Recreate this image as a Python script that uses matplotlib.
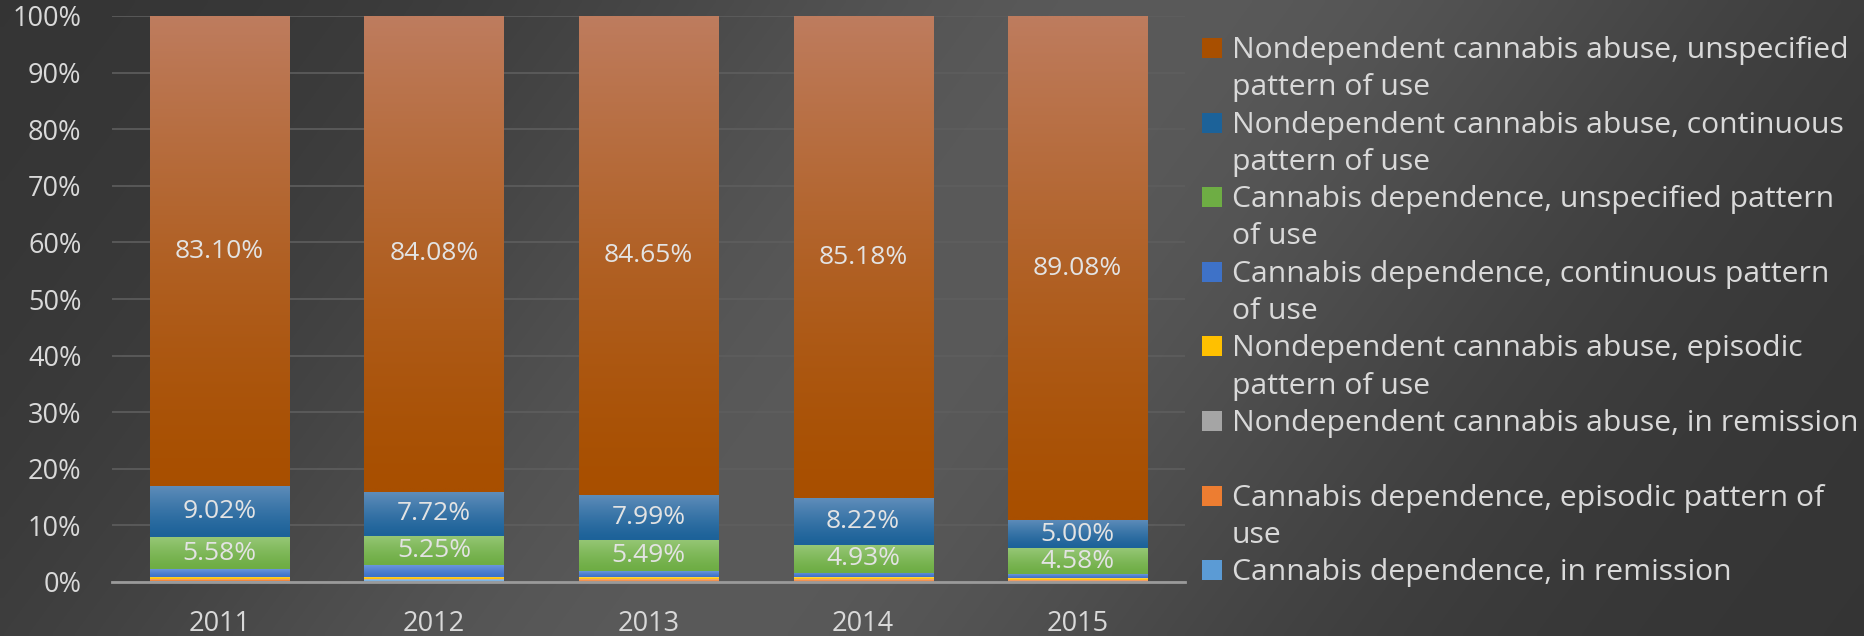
import numpy as np
import matplotlib
matplotlib.use("Agg")
import matplotlib.pyplot as plt
from matplotlib.colors import to_rgb
from matplotlib.patches import Rectangle

plt.rcParams['font.family'] = ['Open Sans', 'DejaVu Sans']

# data (percent of cases per year), stack order bottom -> top
years = ['2011', '2012', '2013', '2014', '2015']
dep_remission = [0.10, 0.30, 0.08, 0.08, 0.05]
dep_episodic = [0.35, 0.10, 0.40, 0.45, 0.35]
abuse_remission = [0.05, 0.08, 0.04, 0.07, 0.04]
abuse_episodic = [0.40, 0.40, 0.35, 0.30, 0.30]
dep_continuous = [1.40, 2.07, 1.00, 0.77, 0.60]
dep_unspecified = [5.58, 5.25, 5.49, 4.93, 4.58]
abuse_continuous = [9.02, 7.72, 7.99, 8.22, 5.00]
abuse_unspecified = [83.10, 84.08, 84.65, 85.18, 89.08]

series = [
    ("Cannabis dependence, in remission", dep_remission, '#5B9BD5', '#8EC0EA', False),
    ("Cannabis dependence, episodic pattern of\nuse", dep_episodic, '#ED7D31', '#F7AE7C', False),
    ("Nondependent cannabis abuse, in remission", abuse_remission, '#A5A5A5', '#CACACA', False),
    ("Nondependent cannabis abuse, episodic\npattern of use", abuse_episodic, '#FFC000', '#FFD95C', False),
    ("Cannabis dependence, continuous pattern\nof use", dep_continuous, '#3E72C8', '#6A96DC', False),
    ("Cannabis dependence, unspecified pattern\nof use", dep_unspecified, '#6EAD44', '#96C776', True),
    ("Nondependent cannabis abuse, continuous\npattern of use", abuse_continuous, '#1C6299', '#5F8DBA', True),
    ("Nondependent cannabis abuse, unspecified\npattern of use", abuse_unspecified, '#A84F00', '#BE7C5E', True),
]

W, H = 1864, 636
fig = plt.figure(figsize=(W / 100, H / 100), dpi=100)

# background gradient
bg = fig.add_axes([0, 0, 1, 1], zorder=-10)
gx = np.linspace(0, 1, 256)[None, :]
gy = np.linspace(0, 1, 128)[:, None]
u = gx + 0.25 * gy
v = 52 + 38 * np.exp(-((u - 0.62) / 0.32) ** 2)
bg.imshow(np.repeat((v / 255.0)[:, :, None], 3, axis=2), extent=[0, 1, 0, 1],
          aspect='auto', origin='upper', interpolation='bilinear')
bg.axis('off')

ax = fig.add_axes([112 / W, 1 - 582 / H, (1185 - 112) / W, (582 - 16) / H])
ax.set_facecolor('none')

x = np.arange(len(years))
bottom = np.zeros(len(years))
width = 0.648
for label, vals, base, light, show in series:
    vals = np.array(vals)
    bars = ax.bar(x, vals, width, bottom=bottom, color=base, zorder=3, linewidth=0)
    c0, c1 = np.array(to_rgb(base)), np.array(to_rgb(light))
    t = np.linspace(0, 1, 64)[:, None, None]
    img = c0 + (c1 - c0) * t ** 1.3
    for p in bars.patches:
        im = ax.imshow(img, extent=[p.get_x(), p.get_x() + p.get_width(),
                                    p.get_y(), p.get_y() + p.get_height()],
                       origin='lower', aspect='auto', zorder=3.1, interpolation='bilinear')
        im.set_clip_path(p)
    if show:
        for xi, b, val in zip(x, bottom, vals):
            ax.text(xi, b + val / 2, f"{val:.2f}%", ha='center', va='center',
                    color='#E3E3E3', fontsize=19, zorder=5)
    bottom += vals

ax.set_xlim(-0.5, len(years) - 0.5)
ax.set_ylim(0, 100)
ax.set_aspect('auto')
ax.set_yticks(np.arange(0, 101, 10))
ax.set_yticklabels([f"{t}%" for t in range(0, 101, 10)])
ax.set_xticks(x)
ax.set_xticklabels(years)
ax.tick_params(axis='y', length=0, pad=22, labelsize=19.5, labelcolor='#D9D9D9')
ax.tick_params(axis='x', length=0, pad=20, labelsize=19.5, labelcolor='#D9D9D9')
ax.grid(axis='y', color='#5E5E5E', linewidth=1.2, zorder=0)
for s in ['top', 'right', 'left']:
    ax.spines[s].set_visible(False)
ax.spines['bottom'].set_color('#9A9A9A')
ax.spines['bottom'].set_linewidth(2)
ax.spines['bottom'].set_zorder(4)

# legend drawn by hand: top of stack first, one slot = 2 lines
pitch = 37.3
for i, (label, vals, base, light, show) in enumerate(series[::-1]):
    base_y = 58 + 2 * i * pitch
    fig.add_artist(Rectangle((1202 / W, 1 - base_y / H), 20 / W, 20 / H,
                             transform=fig.transFigure, facecolor=base, edgecolor='none'))
    for k, line in enumerate(label.split('\n')):
        fig.text(1232 / W, 1 - (base_y + k * pitch) / H, line, ha='left', va='baseline',
                 color='#D9D9D9', fontsize=21.7)

fig.savefig('out.png', dpi=100)
